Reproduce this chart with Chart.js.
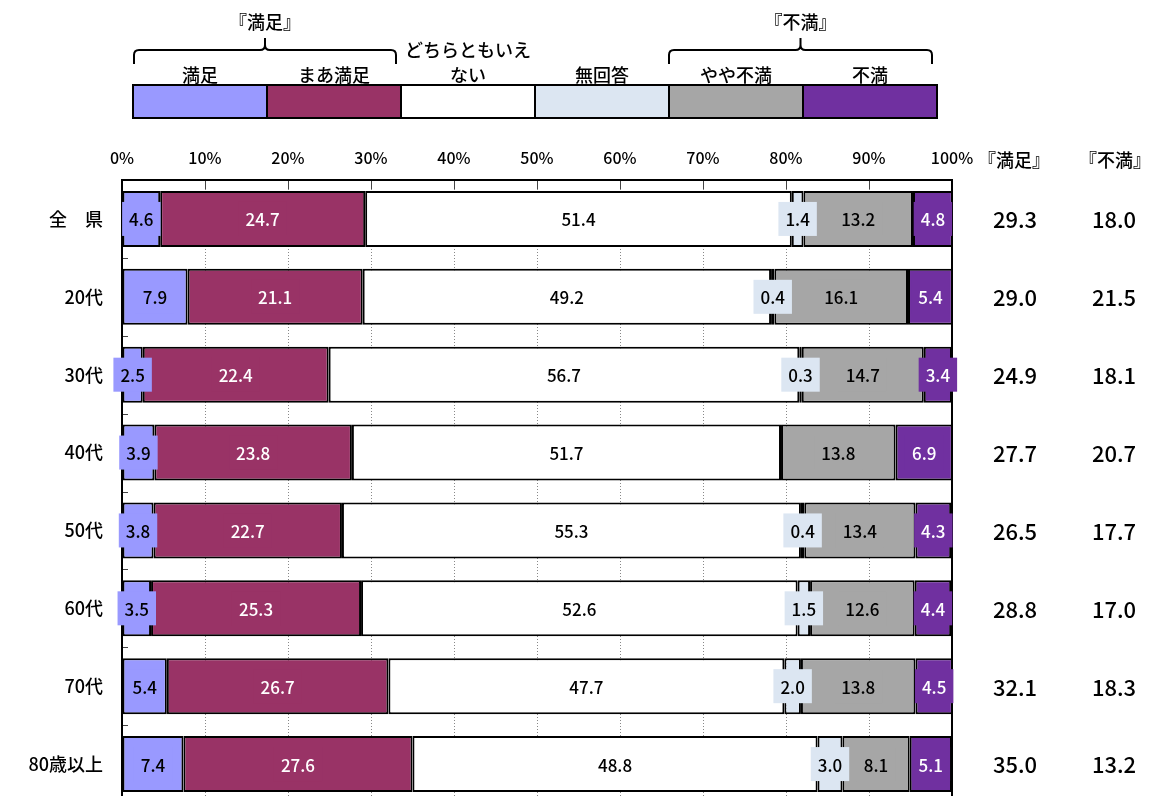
<!DOCTYPE html>
<html><head><meta charset="utf-8">
<script src="https://cdn.jsdelivr.net/npm/chart.js@4.4.0/dist/chart.umd.min.js"></script>
<style>html,body{margin:0;padding:0;background:#fff;overflow:hidden;} #wrap{width:1150px;height:803px;}</style>
</head><body><div id="wrap"><canvas id="c" width="1150" height="803"></canvas></div>
<script>
const categories = ['全　県','20代','30代','40代','50代','60代','70代','80歳以上'];
const seriesNames = ['満足','まあ満足','どちらともいえない','無回答','やや不満','不満'];
const legendLines = [['満足'],['まあ満足'],['どちらともいえ','ない'],['無回答'],['やや不満'],['不満']];
const manzoku    = [4.6, 7.9, 2.5, 3.9, 3.8, 3.5, 5.4, 7.4];
const maaManzoku = [24.7, 21.1, 22.4, 23.8, 22.7, 25.3, 26.7, 27.6];
const dochiramo  = [51.4, 49.2, 56.7, 51.7, 55.3, 52.6, 47.7, 48.8];
const mukaitou   = [1.4, 0.4, 0.3, 0, 0.4, 1.5, 2.0, 3.0];
const yayaFuman  = [13.2, 16.1, 14.7, 13.8, 13.4, 12.6, 13.8, 8.1];
const fuman      = [4.8, 5.4, 3.4, 6.9, 4.3, 4.4, 4.5, 5.1];
const manzokuTotal = [29.3, 29.0, 24.9, 27.7, 26.5, 28.8, 32.1, 35.0];
const fumanTotal   = [18.0, 21.5, 18.1, 20.7, 17.7, 17.0, 18.3, 13.2];
const xTickLabels = ['0%','10%','20%','30%','40%','50%','60%','70%','80%','90%','100%'];
const groupLabels = ['『満足』','『不満』'];

const seriesValues = [manzoku, maaManzoku, dochiramo, mukaitou, yayaFuman, fuman];
const colors = ['#9999ff','#993366','#ffffff','#dce6f2','#a6a6a6','#7030a0'];
const textColors = ['#000','#fff','#000','#000','#000','#fff'];
const FONT = '"Noto Sans CJK JP", "Noto Sans", sans-serif';

const framePlugin = {
  id:'frame',
  beforeDatasetsDraw(chart){
    const {ctx, chartArea:a, scales:{x,y}} = chart;
    ctx.save();
    ctx.strokeStyle = '#444'; ctx.lineWidth = 1;
    for(let v=10; v<100; v+=10){
      const px = Math.round(x.getPixelForValue(v))+0.5;
      ctx.beginPath(); ctx.moveTo(px,a.top); ctx.lineTo(px,a.top+9); ctx.stroke();
    }
    const band = y.getPixelForValue(1)-y.getPixelForValue(0);
    for(let i=0;i<categories.length;i++){
      const py = Math.round(y.getPixelForValue(i)+band/2)+0.5;
      ctx.beginPath(); ctx.moveTo(a.left,py); ctx.lineTo(a.left+6,py); ctx.stroke();
    }
    ctx.strokeStyle='#000'; ctx.lineWidth=2;
    ctx.strokeRect(a.left, a.top, a.right-a.left, a.bottom-a.top+5);
    ctx.restore();
  },
  afterDatasetsDraw(chart){
    const {ctx} = chart;
    ctx.save();
    ctx.font = '500 17px '+FONT;
    ctx.textAlign='center'; ctx.textBaseline='middle';
    chart.data.datasets.forEach((ds,d)=>{
      const meta = chart.getDatasetMeta(d);
      meta.data.forEach((el,i)=>{
        const v = ds.data[i];
        if(!v) return;
        const p = el.getProps(['x','base','y'], true);
        const cx = (p.x+p.base)/2, cy = p.y;
        const txt = v.toFixed(1);
        const tw = ctx.measureText(txt).width;
        const bw = tw+14, bh = 34;
        ctx.fillStyle = colors[d];
        ctx.fillRect(cx-bw/2, cy-bh/2, bw, bh);
        ctx.fillStyle = textColors[d];
        ctx.fillText(txt, cx, cy+1);
      });
    });
    ctx.restore();
  },
  afterDraw(chart){
    const {ctx, scales:{y}} = chart;
    ctx.save();
    ctx.textAlign='center'; ctx.textBaseline='middle';
    ctx.fillStyle='#000';
    ctx.font='500 18px '+FONT;
    ctx.fillText(groupLabels[0], 1014, 160);
    ctx.fillText(groupLabels[1], 1115, 160);
    ctx.font='500 22px '+FONT;
    categories.forEach((c,i)=>{
      const py = y.getPixelForValue(i)+1;
      ctx.fillText(manzokuTotal[i].toFixed(1), 1015, py);
      ctx.fillText(fumanTotal[i].toFixed(1), 1114, py);
    });
    const lx = 133, lw = 134, ly = 85, lh = 33;
    seriesNames.forEach((n,k)=>{
      ctx.fillStyle = colors[k];
      ctx.fillRect(lx+k*lw, ly, lw, lh);
    });
    ctx.strokeStyle='#000'; ctx.lineWidth=2;
    seriesNames.forEach((n,k)=>{ ctx.strokeRect(lx+k*lw, ly, lw, lh); });
    ctx.fillStyle='#000';
    ctx.font='500 18px '+FONT;
    legendLines.forEach((lines,k)=>{
      const cx = lx+k*lw+lw/2;
      lines.forEach((t,j)=>{
        ctx.fillText(t, cx, 75 - (lines.length-1-j)*25);
      });
    });
    const drawBracket = (x1,x2,label)=>{
      const top=50, bot=64, r=5, mid=(x1+x2)/2;
      ctx.strokeStyle='#000'; ctx.lineWidth=2;
      ctx.beginPath();
      ctx.moveTo(x1,bot); ctx.lineTo(x1,top+r); ctx.quadraticCurveTo(x1,top,x1+r,top);
      ctx.lineTo(mid-r,top); ctx.quadraticCurveTo(mid,top,mid,top-r); ctx.lineTo(mid,top-12);
      ctx.moveTo(mid,top-r); ctx.quadraticCurveTo(mid,top,mid+r,top);
      ctx.lineTo(x2-r,top); ctx.quadraticCurveTo(x2,top,x2,top+r); ctx.lineTo(x2,bot);
      ctx.stroke();
      ctx.fillText(label, mid, 22);
    };
    drawBracket(134, 396, groupLabels[0]);
    drawBracket(669, 932, groupLabels[1]);
    ctx.restore();
  }
};

new Chart(document.getElementById('c'), {
  type:'bar',
  data:{
    labels: categories,
    datasets: seriesNames.map((n,k)=>({
      label:n, data:seriesValues[k], backgroundColor:colors[k],
      borderColor:'#000', borderWidth:2, borderSkipped:false,
      barPercentage:0.72, categoryPercentage:1
    }))
  },
  options:{
    indexAxis:'y', responsive:false, animation:false,
    layout:{padding:{left:0,right:198,top:130,bottom:0}},
    plugins:{legend:{display:false}, tooltip:{enabled:false}},
    scales:{
      x:{stacked:true, position:'top', min:0, max:100,
        ticks:{stepSize:10, callback:(v)=>xTickLabels[Math.round(v/10)], font:{family:FONT,size:16,weight:'500'}, color:'#000', padding:12, maxRotation:0, autoSkip:false},
        grid:{color:'#888', drawTicks:false, lineWidth:1},
        border:{display:false, dash:[1,2]},
        afterFit(s){ s.height = 50; s.paddingLeft = 0; s.paddingRight = 0; }
      },
      y:{stacked:true,
        ticks:{font:{family:FONT,size:18,weight:'500'}, color:'#000', padding:19},
        grid:{display:false, drawTicks:false}, border:{display:false},
        afterFit(s){ s.width = 122; s.paddingTop = 0; s.paddingBottom = 0; }
      }
    }
  },
  plugins:[framePlugin]
});
</script></body></html>
